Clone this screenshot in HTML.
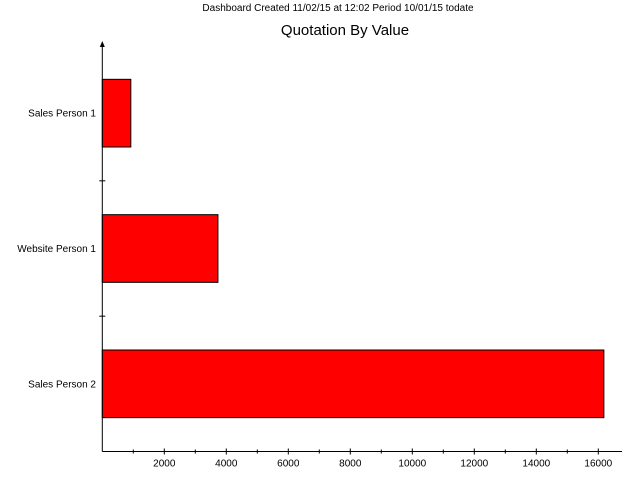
<!DOCTYPE html>
<html><head><meta charset="utf-8"><style>
body{margin:0;background:#fff;}
svg{display:block;font-family:"Liberation Sans",sans-serif;}
</style></head><body>
<svg id="chart" width="623" height="483">
<text x="338" y="11" font-size="10" text-anchor="middle">Dashboard Created 11/02/15 at 12:02 Period 10/01/15 todate</text>
<text x="345" y="35" font-size="15" text-anchor="middle">Quotation By Value</text>
<g id="plot"></g>
</svg>
<script>
const categories=["Sales Person 1","Website Person 1","Sales Person 2"];
const values=[920,3730,16180];
const tickValues=[2000,4000,6000,8000,10000,12000,14000,16000];
const minorTicks=[1000,3000,5000,7000,9000,11000,13000,15000];
const x0=102.3,xScale=0.031,plotTop=45.5,plotBottom=451.5;
const bandH=(plotBottom-plotTop)/categories.length;
const X=v=>x0+v*xScale;
const Y=i=>plotTop+i*bandH;
const ns="http://www.w3.org/2000/svg";
const g=document.getElementById('plot');
function mk(t,a){const e=document.createElementNS(ns,t);for(const k in a)e.setAttribute(k,a[k]);g.appendChild(e);return e;}
categories.forEach((c,i)=>{
  const r=mk('rect',{x:x0,y:Y(i)+bandH/4,width:X(values[i])-x0,height:bandH/2,fill:'#ff0000',stroke:'#000','stroke-width':1});
  
  
  const t=mk('text',{x:96,y:Y(i)+bandH/2+3.5,'font-size':10,'text-anchor':'end'});
  t.textContent=c;
  
  
  if(i>0){const l=mk('line',{x1:x0-3,x2:x0+3,y1:Y(i),y2:Y(i),stroke:'#000'});
  
  }
});
const ya=mk('line',{x1:x0,x2:x0,y1:44,y2:plotBottom,stroke:'#000'});


const ar=mk('path',{d:`M${x0} 41 L${x0-2.5} 47 L${x0+2.5} 47Z`,fill:'#000'});


const xa=mk('line',{x1:x0,x2:622,y1:plotBottom,y2:plotBottom,stroke:'#000'});


minorTicks.forEach(v=>{const l=mk('line',{x1:X(v),x2:X(v),y1:plotBottom-2,y2:plotBottom+2,stroke:'#000'});
  
  });
tickValues.forEach(v=>{const l=mk('line',{x1:X(v),x2:X(v),y1:plotBottom-3,y2:plotBottom+3,stroke:'#000'});
  
  
  const t=mk('text',{x:X(v),y:plotBottom+15,'font-size':10,'text-anchor':'middle'});
  t.textContent=v;
  
  });
</script>
</body></html>
